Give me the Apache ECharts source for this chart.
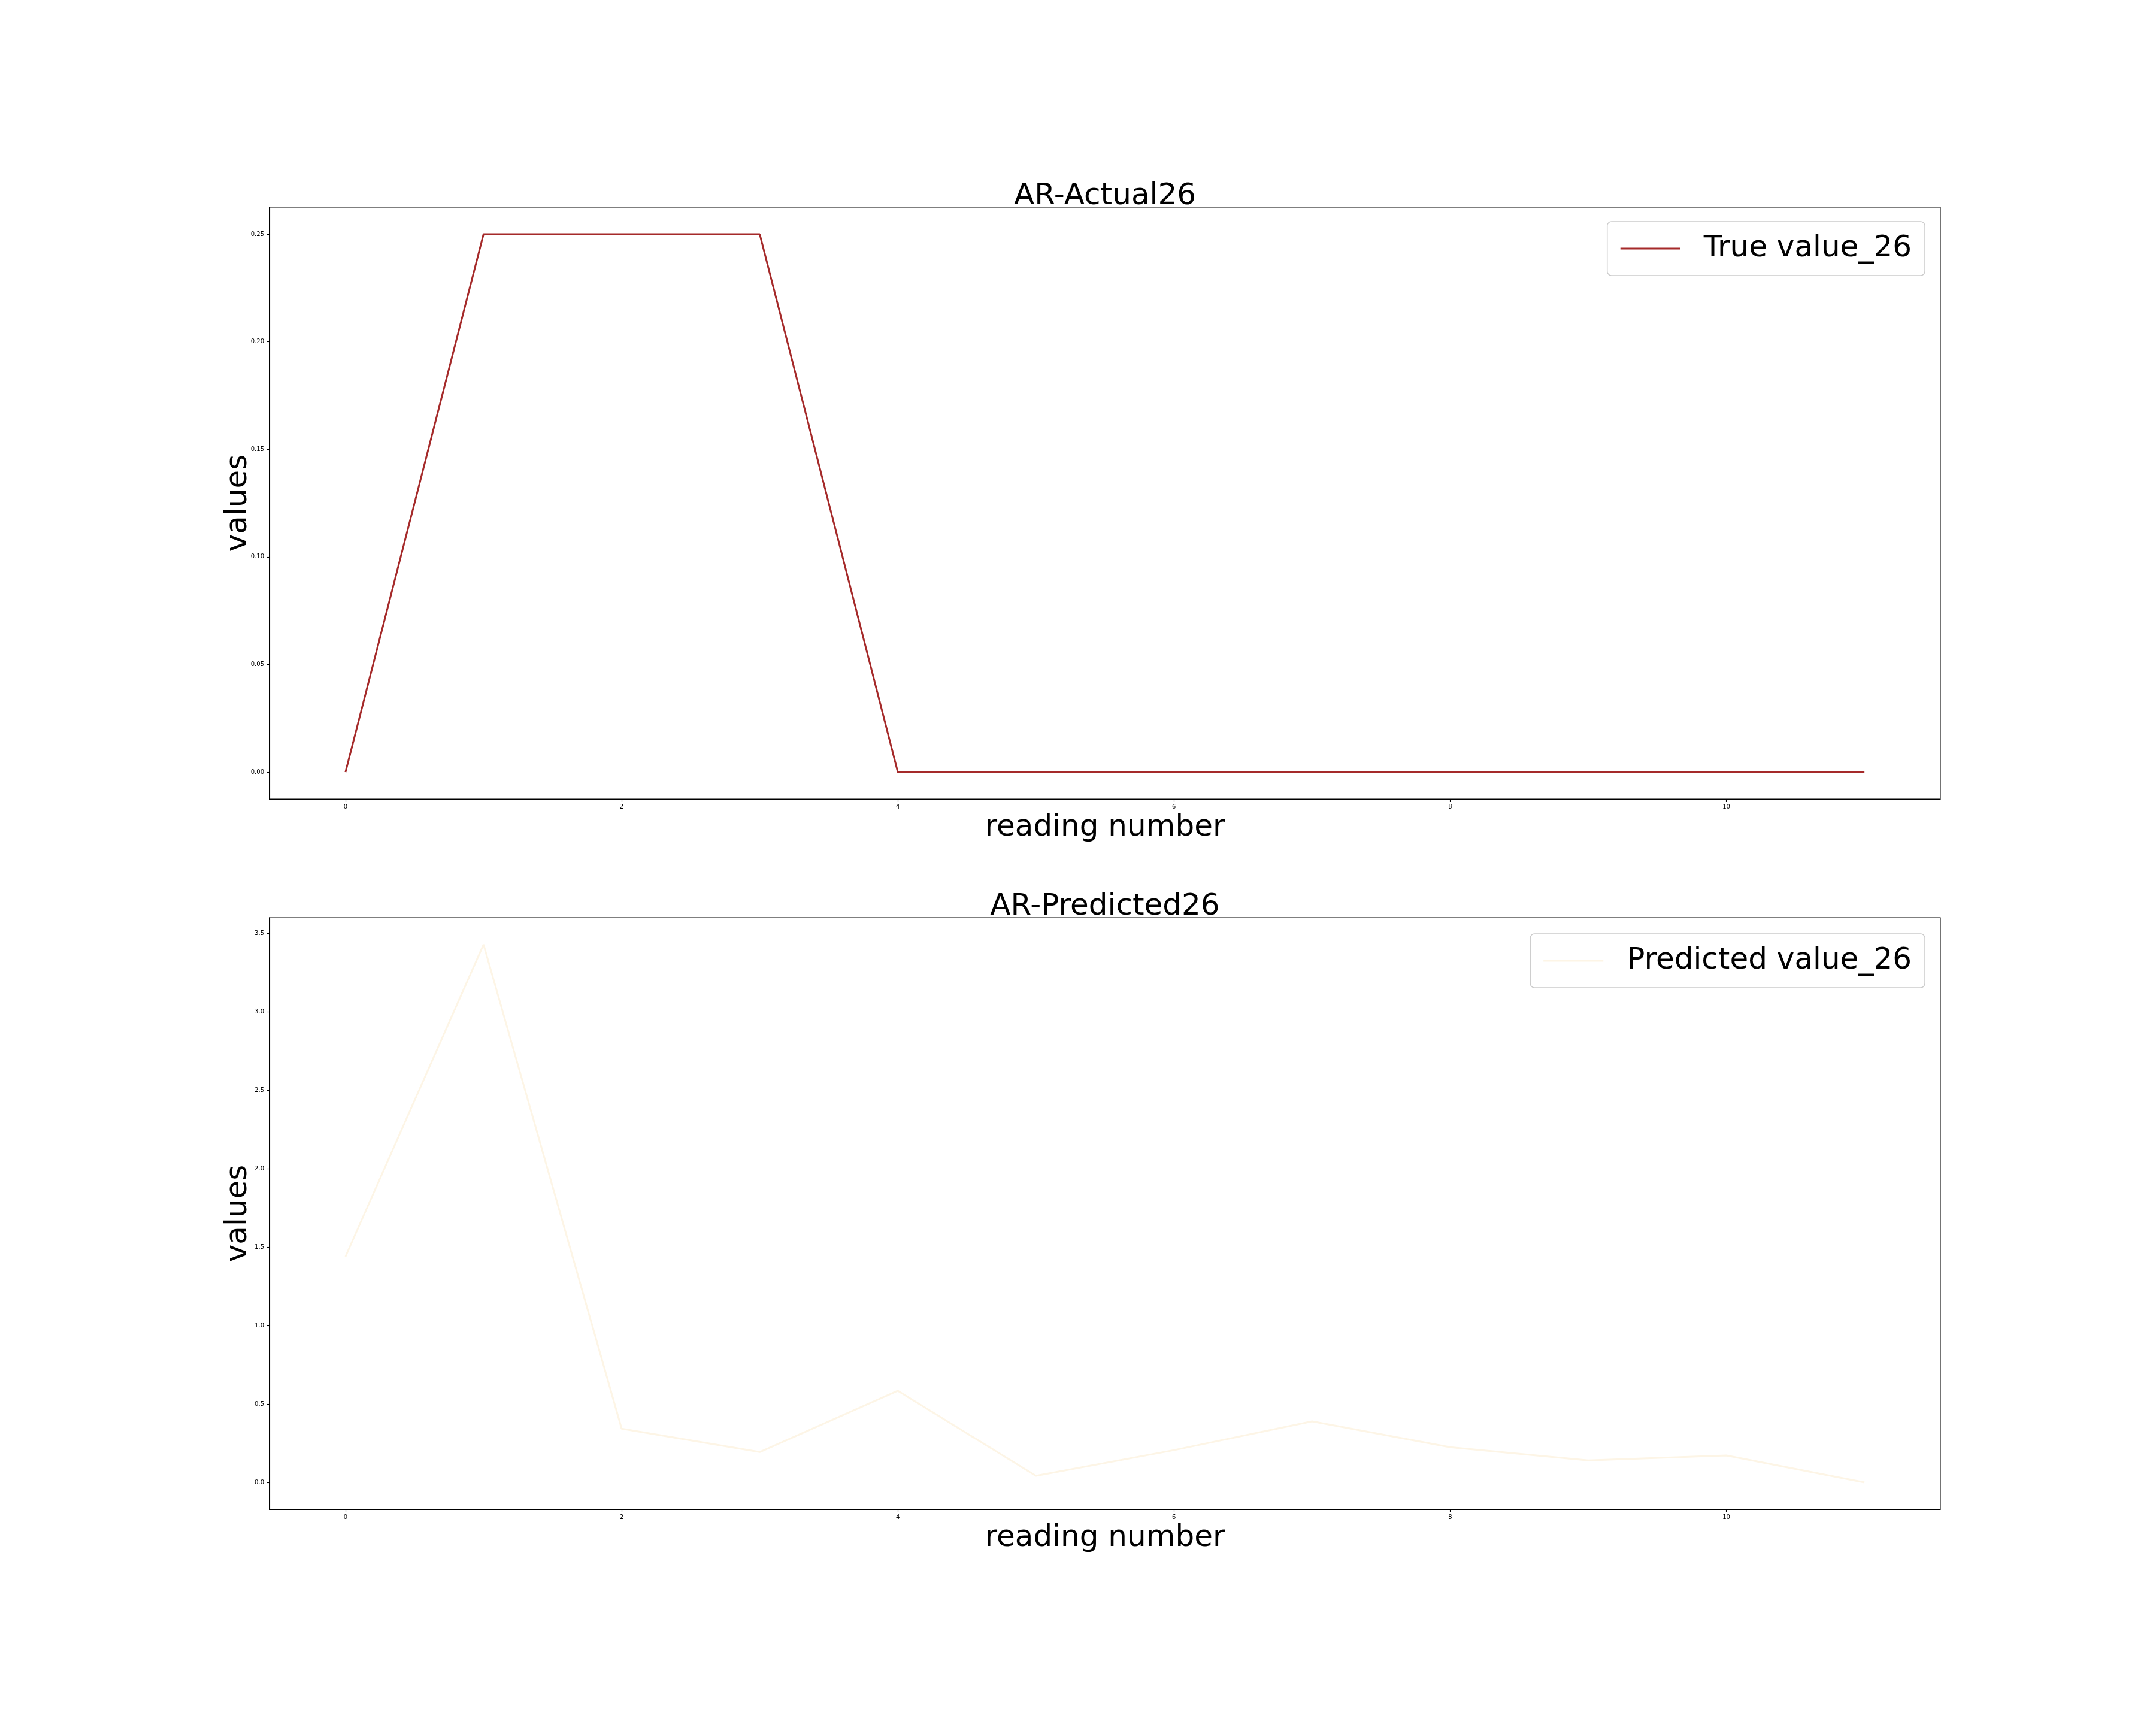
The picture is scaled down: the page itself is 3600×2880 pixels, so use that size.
<!DOCTYPE html>
<html>
<head>
<meta charset="utf-8">
<script src="https://cdn.jsdelivr.net/npm/echarts@6/dist/echarts.min.js"></script>
<style>
html,body{margin:0;padding:0;background:#fff;}
#c{width:3600px;height:2880px;}
</style>
</head>
<body>
<div id="c"></div>
<script>
// ---- data ----
const readingNumbers = [0,1,2,3,4,5,6,7,8,9,10,11];
const trueValues = [0,0.25,0.25,0.25,0,0,0,0,0,0,0,0];
const predictedValues = [1.44,3.43,0.343,0.194,0.585,0.042,0.206,0.39,0.225,0.141,0.172,0.0];
const xTicks = [0,2,4,6,8,10];
const yTicksTop = [0,0.05,0.10,0.15,0.20,0.25];
const yTicksBottom = [0,0.5,1.0,1.5,2.0,2.5,3.0,3.5];
const titles = ['AR-Actual26','AR-Predicted26'];
const seriesNames = ['True value_26','Predicted value_26'];

const FONT = 'DejaVu Sans';
const chart = echarts.init(document.getElementById('c'), null, {renderer:'canvas'});

function pad(arr, frac){
  const mn = Math.min(...arr), mx = Math.max(...arr), r = mx - mn;
  return [mn - frac*r, mx + frac*r];
}
const xr = pad(readingNumbers, 0.05);
const yrTop = pad(trueValues, 0.05);
const yrBot = pad(predictedValues, 0.05);

const grids = [
  {left:450, top:346, width:2790, height:988},
  {left:450, top:1532, width:2790, height:988}
];

function xAxisCfg(gi){
  return {
    type:'value', gridIndex:gi, min:xr[0], max:xr[1],
    name:'reading number', nameLocation:'middle', nameGap:23,
    nameTextStyle:{fontFamily:FONT, fontSize:50, color:'#000'},
    axisLine:{show:true, onZero:false, lineStyle:{color:'#000', width:1.1}},
    axisTick:{show:true, inside:false, length:5, customValues:xTicks, lineStyle:{color:'#000', width:1.1}},
    axisLabel:{show:true, margin:8, customValues:xTicks, fontFamily:FONT, fontSize:10, color:'#000',
      formatter:v=>String(Math.round(v))},
    splitLine:{show:false}
  };
}
function yAxisCfg(gi, rng, ticks, dec){
  return {
    type:'value', gridIndex:gi, min:rng[0], max:rng[1],
    name:'values', nameLocation:'middle', nameGap:27, nameRotate:90, nameMoveOverlap:false,
    nameTextStyle:{fontFamily:FONT, fontSize:50, color:'#000'},
    axisLine:{show:true, onZero:false, lineStyle:{color:'#000', width:1.1}},
    axisTick:{show:true, inside:false, length:5, customValues:ticks, lineStyle:{color:'#000', width:1.1}},
    axisLabel:{show:true, margin:9, customValues:ticks, fontFamily:FONT, fontSize:10, color:'#000',
      formatter:v=>Number(v).toFixed(dec)},
    splitLine:{show:false}
  };
}

function legendCfg(name, top){
  return {data:[name], right:386, top:top, orient:'vertical', icon:'rect',
     itemWidth:100, itemHeight:3, padding:[20,22,20,22],
     backgroundColor:'rgba(255,255,255,0.8)', borderColor:'#cccccc', borderWidth:1.5, borderRadius:7,
     textStyle:{fontFamily:FONT, fontSize:50, color:'#000', padding:[0,0,0,34]}};
}

const option = {
  backgroundColor:'#ffffff',
  animation:false,
  title:[
    {text:titles[0], left:1845, textAlign:'center', top:303, padding:0,
     textStyle:{fontFamily:FONT, fontSize:50, fontWeight:'normal', color:'#000'}},
    {text:titles[1], left:1845, textAlign:'center', top:1489, padding:0,
     textStyle:{fontFamily:FONT, fontSize:50, fontWeight:'normal', color:'#000'}}
  ],
  grid: grids.map(g=>Object.assign({show:true, borderColor:'#000', borderWidth:1.1, backgroundColor:'transparent'}, g)),
  xAxis:[xAxisCfg(0), xAxisCfg(1)],
  yAxis:[yAxisCfg(0, yrTop, yTicksTop, 2), yAxisCfg(1, yrBot, yTicksBottom, 1)],
  legend:[legendCfg(seriesNames[0], 370), legendCfg(seriesNames[1], 1559)],
  series:[
    {name:seriesNames[0], type:'line', xAxisIndex:0, yAxisIndex:0,
     data:readingNumbers.map((x,i)=>[x,trueValues[i]]),
     symbol:'none', color:'#a52a2a', lineStyle:{color:'#a52a2a', width:3}},
    {name:seriesNames[1], type:'line', xAxisIndex:1, yAxisIndex:1,
     data:readingNumbers.map((x,i)=>[x,predictedValues[i]]),
     symbol:'none', color:'#fdf5e6', lineStyle:{color:'#fdf5e6', width:3}}
  ]
};
chart.setOption(option);
</script>
</body>
</html>
